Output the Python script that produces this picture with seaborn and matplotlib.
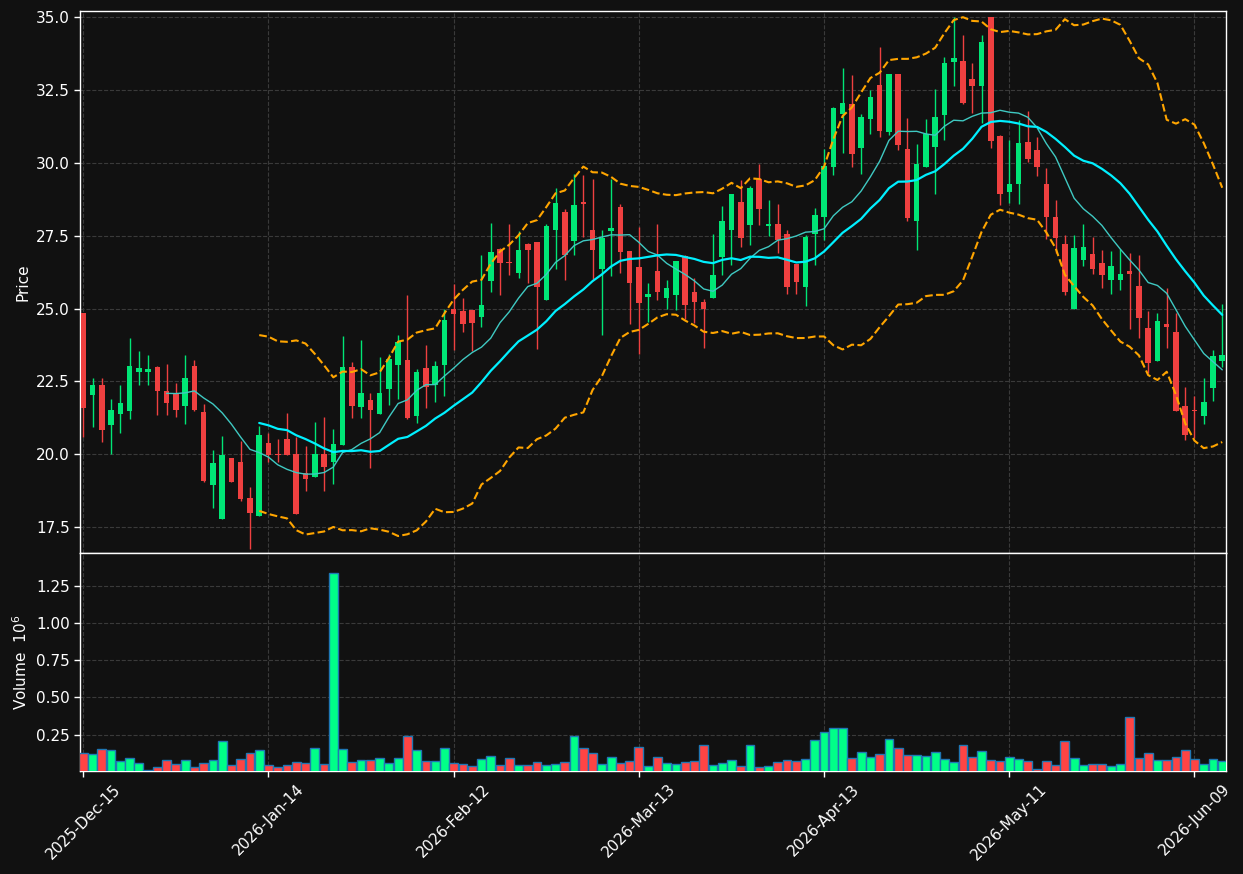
import numpy as np
import pandas as pd
import matplotlib
matplotlib.use("Agg")
import matplotlib.pyplot as plt
import seaborn as sns

# daily OHLC (124 trading days)
opens = [24.83, 22.04, 22.37, 21.00, 21.38, 21.49, 22.83, 22.83, 22.99, 22.16,
         22.06, 21.66, 23.02, 21.44, 18.95, 17.78, 19.86, 19.73, 18.49, 17.88,
         20.38, 20.00, 20.52, 20.00, 19.34, 19.23, 20.00, 19.74, 20.32, 23.00,
         21.63, 21.85, 21.39, 22.23, 23.07, 23.23, 21.32, 22.95, 22.39, 23.07,
         24.97, 24.90, 24.94, 24.71, 25.94, 27.05, 26.58, 26.22, 27.22, 27.27,
         25.29, 27.69, 28.30, 27.31, 28.67, 27.71, 26.35, 27.66, 28.50, 26.96,
         26.41, 25.41, 26.28, 25.37, 25.46, 26.80, 25.56, 25.22, 25.37, 26.77,
         27.69, 28.64, 27.85, 29.46, 27.83, 27.89, 27.55, 26.52, 25.74, 27.56,
         28.14, 29.86, 31.68, 32.01, 30.51, 31.49, 32.66, 31.06, 33.04, 30.46,
         28.00, 29.86, 30.54, 31.64, 33.47, 33.49, 32.86, 32.64, 35.00, 30.93,
         29.00, 29.28, 30.71, 30.43, 29.27, 28.14, 27.21, 24.99, 26.68, 26.87,
         26.56, 25.98, 25.98, 26.28, 25.77, 24.33, 23.19, 24.46, 24.19, 21.65,
         21.51, 21.32, 22.28, 23.20]
highs = [24.85, 22.63, 22.60, 21.88, 22.36, 24.00, 23.54, 23.42, 23.02, 23.08,
         22.43, 23.42, 23.25, 21.74, 20.13, 20.61, 19.88, 20.47, 18.89, 20.96,
         20.74, 20.51, 21.40, 20.60, 20.28, 21.12, 21.26, 20.88, 24.07, 23.15,
         23.93, 22.11, 23.35, 23.44, 24.09, 25.48, 22.94, 23.76, 23.20, 25.00,
         25.85, 25.37, 24.96, 26.85, 27.94, 27.07, 27.91, 27.66, 27.24, 27.29,
         27.91, 29.14, 28.42, 29.62, 29.57, 29.45, 27.68, 29.45, 28.57, 26.98,
         27.81, 25.86, 27.91, 25.97, 26.64, 26.82, 26.06, 25.34, 27.57, 28.52,
         28.94, 29.42, 29.21, 29.97, 28.71, 28.60, 27.71, 26.54, 27.53, 28.46,
         30.48, 31.92, 33.24, 33.03, 31.69, 32.49, 33.96, 33.06, 33.06, 31.55,
         30.66, 31.52, 32.52, 33.63, 34.99, 34.37, 33.41, 34.40, 35.02, 30.95,
         30.77, 31.46, 31.77, 30.89, 29.81, 28.71, 27.54, 27.51, 27.89, 27.46,
         27.00, 26.97, 27.05, 26.92, 26.82, 24.90, 24.86, 25.69, 24.83, 22.29,
         22.00, 22.63, 23.59, 25.14]
lows = [20.60, 20.94, 20.42, 20.02, 20.74, 21.22, 22.36, 22.36, 21.33, 21.33,
        21.29, 21.02, 21.49, 19.03, 18.14, 17.78, 19.03, 18.41, 16.73, 17.88,
        19.74, 19.72, 19.96, 17.96, 18.73, 19.23, 18.73, 18.98, 20.32, 21.23,
        21.23, 19.51, 21.39, 21.69, 21.91, 21.21, 21.07, 21.59, 21.80, 22.01,
        23.59, 24.19, 23.55, 24.38, 25.58, 25.47, 26.16, 26.06, 25.89, 23.62,
        25.29, 26.37, 25.99, 26.85, 27.45, 26.02, 24.10, 26.11, 26.22, 24.48,
        23.43, 24.53, 25.29, 24.99, 24.94, 24.63, 24.49, 23.63, 25.37, 26.16,
        26.51, 27.12, 27.19, 27.88, 27.50, 26.91, 25.51, 25.51, 25.10, 26.51,
        27.36, 29.57, 30.34, 29.87, 29.62, 31.00, 30.89, 30.95, 30.45, 27.99,
        27.02, 29.86, 28.94, 30.80, 32.64, 32.01, 31.72, 31.35, 30.50, 28.54,
        28.62, 28.60, 30.03, 29.54, 27.37, 26.91, 25.48, 24.99, 26.45, 26.20,
        25.72, 25.51, 25.65, 24.31, 23.99, 22.77, 23.19, 23.65, 21.49, 20.50,
        20.55, 21.02, 21.84, 23.00]
closes = [21.60, 22.37, 20.84, 21.51, 21.75, 23.02, 22.95, 22.92, 22.17, 21.76,
          21.52, 22.61, 21.52, 19.08, 19.69, 19.97, 19.05, 18.47, 17.99, 20.65,
          19.97, 19.98, 19.96, 17.96, 19.16, 20.00, 19.57, 20.34, 23.00, 21.66,
          22.09, 21.53, 22.09, 23.27, 23.85, 21.25, 22.81, 22.32, 23.02, 24.60,
          24.81, 24.47, 24.50, 25.11, 26.93, 26.56, 26.55, 27.00, 27.01, 25.74,
          27.82, 28.61, 26.82, 28.54, 28.58, 27.01, 27.41, 27.75, 26.93, 25.87,
          25.19, 25.50, 25.57, 25.70, 26.62, 25.13, 25.22, 24.98, 26.14, 27.99,
          28.92, 27.42, 29.12, 28.41, 27.89, 27.36, 25.74, 25.91, 27.45, 28.20,
          29.88, 31.87, 32.04, 30.30, 31.56, 32.25, 31.09, 33.04, 30.61, 28.10,
          29.95, 30.98, 31.56, 33.43, 33.61, 32.04, 32.64, 34.14, 30.75, 28.93,
          29.29, 30.67, 30.14, 29.86, 28.15, 27.43, 25.57, 27.07, 27.11, 26.36,
          26.16, 26.45, 26.18, 26.19, 24.68, 23.14, 24.57, 24.37, 21.49, 20.66,
          21.49, 21.79, 23.36, 23.40]
# volume in millions
volumes = [0.128, 0.122, 0.155, 0.149, 0.072, 0.095, 0.059, 0.0135, 0.034, 0.081,
           0.054, 0.081, 0.034, 0.059, 0.081, 0.209, 0.047, 0.088, 0.128, 0.149,
           0.047, 0.034, 0.047, 0.068, 0.061, 0.162, 0.054, 1.338, 0.155, 0.068,
           0.081, 0.081, 0.095, 0.059, 0.095, 0.243, 0.149, 0.074, 0.074, 0.162,
           0.061, 0.054, 0.041, 0.088, 0.108, 0.047, 0.095, 0.047, 0.047, 0.068,
           0.047, 0.054, 0.068, 0.243, 0.162, 0.128, 0.054, 0.101, 0.061, 0.074,
           0.169, 0.041, 0.101, 0.061, 0.054, 0.068, 0.074, 0.176, 0.047, 0.061,
           0.081, 0.041, 0.182, 0.034, 0.041, 0.068, 0.081, 0.074, 0.088, 0.216,
           0.264, 0.291, 0.291, 0.095, 0.135, 0.101, 0.122, 0.223, 0.162, 0.115,
           0.115, 0.108, 0.135, 0.088, 0.068, 0.176, 0.101, 0.142, 0.081, 0.074,
           0.101, 0.088, 0.074, 0.020, 0.074, 0.047, 0.203, 0.095, 0.047, 0.054,
           0.054, 0.041, 0.054, 0.365, 0.095, 0.128, 0.081, 0.081, 0.101, 0.149,
           0.088, 0.054, 0.088, 0.074]

holidays = ['2025-12-25', '2026-01-01', '2026-01-19', '2026-02-16', '2026-04-03', '2026-05-25']
dates = pd.bdate_range('2025-12-15', periods=len(closes), freq='C', holidays=holidays)

df = pd.DataFrame({'Open': opens, 'High': highs, 'Low': lows, 'Close': closes, 'Volume': volumes})
df['High'] = df[['Open', 'High', 'Close']].max(axis=1)
df['Low'] = df[['Open', 'Low', 'Close']].min(axis=1)
df['idx'] = np.arange(len(df))
df['ma10'] = df['Close'].rolling(10).mean()
df['ma20'] = df['Close'].rolling(20).mean()
std20 = df['Close'].rolling(20).std(ddof=0)
df['bb_up'] = df['ma20'] + 2 * std20
df['bb_lo'] = df['ma20'] - 2 * std20

up = df['Close'] >= df['Open']
bg = '#111111'
candle_up, candle_dn = '#00e676', '#ef4040'
vol_up, vol_dn = '#00ff88', '#ff4444'

sns.set_theme(style='dark', rc={
    'figure.facecolor': bg, 'axes.facecolor': bg, 'axes.edgecolor': 'white',
    'axes.labelcolor': 'white', 'xtick.color': 'white', 'ytick.color': 'white',
    'text.color': 'white', 'grid.color': '#3a3a3a', 'grid.linestyle': '--',
    'axes.grid': True, 'xtick.bottom': True, 'ytick.left': True,
})
plt.rcParams['font.family'] = ['DejaVu Sans']
plt.rcParams['font.size'] = 11

fig = plt.figure(figsize=(12.43, 8.74), dpi=100)
ax = fig.add_axes([0.0644, 0.3673, 0.9219, 0.6201])
axv = fig.add_axes([0.0644, 0.1178, 0.9219, 0.2495], sharex=ax)

# candles
colors = np.where(up, candle_up, candle_dn)
ax.vlines(df['idx'], df['Low'], df['High'], colors=colors, linewidth=1.0, zorder=3)
body_lo = np.minimum(df['Open'], df['Close'])
body_h = np.maximum((df['Close'] - df['Open']).abs(), 0.03)
ax.bar(df['idx'], body_h, bottom=body_lo, width=0.6, color=colors, linewidth=0, zorder=4)

# moving averages and bands
sns.lineplot(data=df, x='idx', y='ma10', ax=ax, color='#3fc9c2', linewidth=1.0, zorder=5)
sns.lineplot(data=df, x='idx', y='ma20', ax=ax, color='#00f0ff', linewidth=1.6, zorder=5)
sns.lineplot(data=df, x='idx', y='bb_up', ax=ax, color='orange', linewidth=1.5, dashes=False,
             linestyle='--', zorder=5)
sns.lineplot(data=df, x='idx', y='bb_lo', ax=ax, color='orange', linewidth=1.5, dashes=False,
             linestyle='--', zorder=5)

ax.set_ylim(16.61, 35.21)
ax.set_xlim(-0.35, len(df) - 0.6)
ax.set_ylabel('Price', fontsize=11)
ax.set_xlabel('')
ax.grid(True, color='#3a3a3a', linestyle='--', linewidth=0.8)
ax.tick_params(axis='x', labelbottom=False, bottom=False)
ax.tick_params(axis='y', labelsize=11, length=4, width=1)

# volume
vcolors = np.where(up, vol_up, vol_dn)
axv.bar(df['idx'], df['Volume'], width=0.95, color=vcolors, edgecolor='#1f77b4', linewidth=1.0, zorder=3)
axv.set_ylim(0.3 * df['Volume'].min(), 1.1 * df['Volume'].max())
axv.set_yticks([0.25, 0.50, 0.75, 1.00, 1.25])
axv.set_ylabel('Volume  $10^{6}$', fontsize=11)
axv.grid(True, color='#3a3a3a', linestyle='--', linewidth=0.8)

tick_pos = list(range(0, len(df), 20))
axv.set_xticks(tick_pos)
axv.set_xticklabels([dates[i].strftime('%Y-%b-%d') for i in tick_pos], rotation=45, fontsize=11)
axv.tick_params(axis='both', labelsize=11, length=4, width=1)
axv.set_xlabel('')

for a in (ax, axv):
    for s in a.spines.values():
        s.set_color('white')
        s.set_linewidth(1.0)

fig.savefig('out.png', dpi=100, facecolor=bg)
